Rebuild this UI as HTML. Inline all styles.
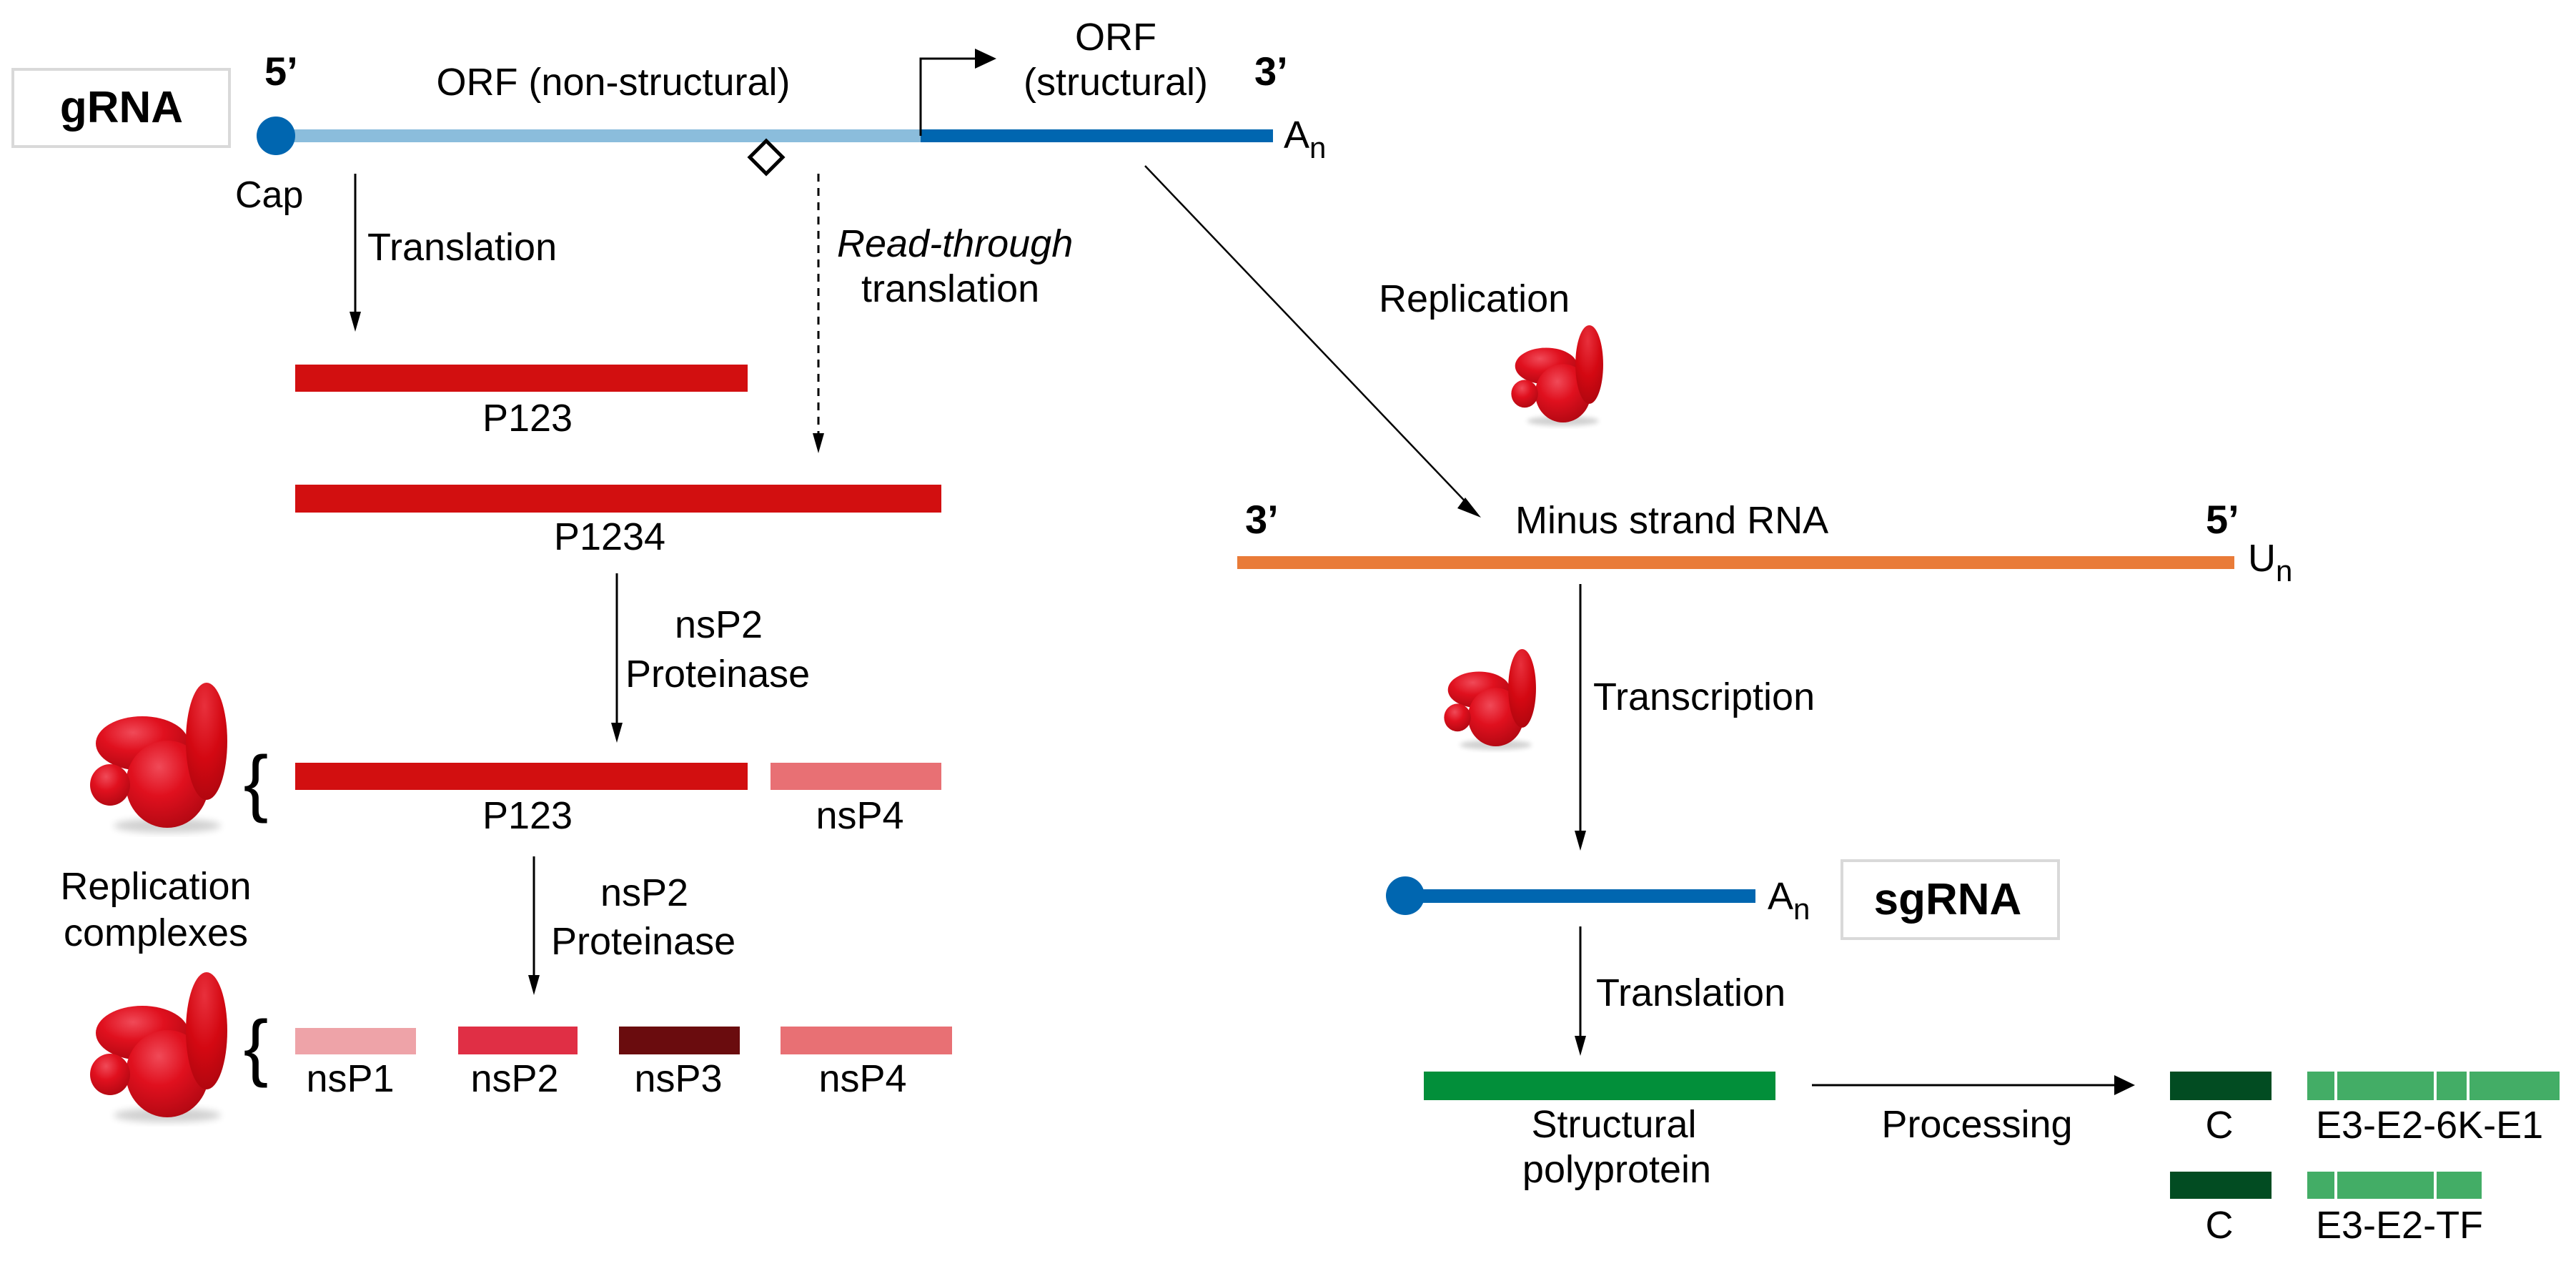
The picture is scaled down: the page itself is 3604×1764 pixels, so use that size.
<!DOCTYPE html>
<html><head><meta charset="utf-8"><style>
html,body{margin:0;padding:0;background:#fff;}
svg{display:block;}
text{font-family:"Liberation Sans",Arial,sans-serif;fill:#000;}
</style></head><body>
<svg width="3604" height="1764" viewBox="0 0 3604 1764" xmlns="http://www.w3.org/2000/svg">
<defs>
<radialGradient id="g1" cx="0.4" cy="0.3" r="0.75">
<stop offset="0" stop-color="#f04a58"/><stop offset="0.45" stop-color="#e0101e"/><stop offset="1" stop-color="#b00812"/>
</radialGradient>
<radialGradient id="g2" cx="0.45" cy="0.2" r="0.9">
<stop offset="0" stop-color="#e8303c"/><stop offset="0.5" stop-color="#d40812"/><stop offset="1" stop-color="#a8060e"/>
</radialGradient>
<filter id="sh" x="-30%" y="-30%" width="160%" height="160%"><feGaussianBlur stdDeviation="5"/></filter>
<g id="blob">
<ellipse cx="110" cy="200" rx="75" ry="10" fill="#000" opacity="0.18" filter="url(#sh)"/>
<ellipse cx="75" cy="85" rx="65" ry="38" fill="url(#g1)"/>
<ellipse cx="110" cy="142" rx="58" ry="61" fill="url(#g1)"/>
<ellipse cx="30" cy="143" rx="28" ry="29" fill="url(#g1)"/>
<ellipse cx="165" cy="82" rx="29" ry="82" fill="url(#g2)"/>
</g>
</defs>

<rect x="18" y="97" width="303" height="108" fill="#fff" stroke="#d9d9d9" stroke-width="4"/>
<text x="170" y="171" font-size="62" font-weight="bold" text-anchor="middle">gRNA</text>
<text x="370" y="119" font-size="56" font-weight="bold">5’</text>
<rect x="386" y="181" width="902" height="18" fill="#8bbddc"/>
<rect x="1288" y="181" width="493" height="18" fill="#0066b0"/>
<circle cx="386" cy="190" r="27" fill="#0066b0"/>
<text x="858" y="133" font-size="54" text-anchor="middle">ORF (non-structural)</text>
<polyline points="1288,190 1288,82 1366,82" fill="none" stroke="#000" stroke-width="3"/>
<polygon points="1364,68 1394,82 1364,96" fill="#000"/>
<text x="1561" y="70" font-size="54" text-anchor="middle">ORF</text>
<text x="1561" y="133" font-size="54" text-anchor="middle">(structural)</text>
<text x="1755" y="119" font-size="56" font-weight="bold">3’</text>
<text x="1796" y="207" font-size="54">A<tspan font-size="42" dy="14">n</tspan></text>
<polygon points="1072,197 1095,220 1072,243 1049,220" fill="#fff" stroke="#000" stroke-width="5"/>
<text x="329" y="290" font-size="52">Cap</text>

<line x1="497" y1="243" x2="497" y2="440" stroke="#000" stroke-width="3"/>
<polygon points="489,436 505,436 497,464" fill="#000"/>
<text x="514" y="364" font-size="54">Translation</text>
<line x1="1145" y1="243" x2="1145" y2="610" stroke="#000" stroke-width="3" stroke-dasharray="11,9"/>
<polygon points="1137,606 1153,606 1145,634" fill="#000"/>
<text x="1171" y="359" font-size="54" font-style="italic">Read-through</text>
<text x="1205" y="422" font-size="54">translation</text>

<rect x="413" y="510" width="633" height="38" fill="#d20f10"/>
<text x="738" y="603" font-size="54" text-anchor="middle">P123</text>
<rect x="413" y="678" width="904" height="39" fill="#d20f10"/>
<text x="853" y="769" font-size="54" text-anchor="middle">P1234</text>

<line x1="863" y1="802" x2="863" y2="1015" stroke="#000" stroke-width="3"/>
<polygon points="855,1011 871,1011 863,1039" fill="#000"/>
<text x="944" y="892" font-size="54">nsP2</text>
<text x="875" y="961" font-size="54">Proteinase</text>

<use href="#blob" transform="translate(124,955)"/>
<text x="358" y="1130" font-size="104" text-anchor="middle">{</text>
<rect x="413" y="1067" width="633" height="38" fill="#d20f10"/>
<rect x="1078" y="1067" width="239" height="38" fill="#e87074"/>
<text x="738" y="1159" font-size="54" text-anchor="middle">P123</text>
<text x="1203" y="1159" font-size="54" text-anchor="middle">nsP4</text>

<text x="218" y="1258" font-size="54" text-anchor="middle">Replication</text>
<text x="218" y="1323" font-size="54" text-anchor="middle">complexes</text>

<line x1="747" y1="1198" x2="747" y2="1368" stroke="#000" stroke-width="3"/>
<polygon points="739,1364 755,1364 747,1392" fill="#000"/>
<text x="840" y="1267" font-size="54">nsP2</text>
<text x="771" y="1335" font-size="54">Proteinase</text>

<use href="#blob" transform="translate(124,1360)"/>
<text x="358" y="1500" font-size="104" text-anchor="middle">{</text>
<rect x="413" y="1438" width="169" height="37" fill="#eea3a8"/>
<rect x="641" y="1436" width="167" height="39" fill="#e02f45"/>
<rect x="866" y="1436" width="169" height="39" fill="#6a0c0e"/>
<rect x="1092" y="1436" width="240" height="39" fill="#e87074"/>
<text x="490" y="1527" font-size="54" text-anchor="middle">nsP1</text>
<text x="720" y="1527" font-size="54" text-anchor="middle">nsP2</text>
<text x="949" y="1527" font-size="54" text-anchor="middle">nsP3</text>
<text x="1207" y="1527" font-size="54" text-anchor="middle">nsP4</text>

<line x1="1602" y1="232" x2="2060" y2="712" stroke="#000" stroke-width="2.5"/>
<polygon points="2050,696 2072,724 2039,711" fill="#000"/>
<text x="1929" y="436" font-size="54">Replication</text>
<use href="#blob" transform="translate(2113,455) scale(0.67)"/>

<text x="1742" y="746" font-size="56" font-weight="bold">3’</text>
<text x="2120" y="746" font-size="54">Minus strand RNA</text>
<text x="3086" y="746" font-size="56" font-weight="bold">5’</text>
<rect x="1731" y="778" width="1395" height="18" fill="#e97b38"/>
<text x="3145" y="799" font-size="54">U<tspan font-size="42" dy="14">n</tspan></text>

<line x1="2211" y1="817" x2="2211" y2="1166" stroke="#000" stroke-width="3"/>
<polygon points="2203,1162 2219,1162 2211,1190" fill="#000"/>
<use href="#blob" transform="translate(2019,908) scale(0.67)"/>
<text x="2229" y="993" font-size="54">Transcription</text>

<rect x="1966" y="1244" width="490" height="19" fill="#0066b0"/>
<circle cx="1966" cy="1253" r="27" fill="#0066b0"/>
<text x="2473" y="1272" font-size="54">A<tspan font-size="42" dy="14">n</tspan></text>
<rect x="2577" y="1204" width="303" height="109" fill="#fff" stroke="#d9d9d9" stroke-width="4"/>
<text x="2725" y="1279" font-size="62" font-weight="bold" text-anchor="middle">sgRNA</text>

<line x1="2211" y1="1296" x2="2211" y2="1453" stroke="#000" stroke-width="3"/>
<polygon points="2203,1449 2219,1449 2211,1477" fill="#000"/>
<text x="2233" y="1407" font-size="54">Translation</text>

<rect x="1992" y="1499" width="492" height="40" fill="#028f3a"/>
<text x="2258" y="1591" font-size="54" text-anchor="middle">Structural</text>
<text x="2262" y="1654" font-size="54" text-anchor="middle">polyprotein</text>

<line x1="2535" y1="1518" x2="2962" y2="1518" stroke="#000" stroke-width="3"/>
<polygon points="2958,1504 2987,1518 2958,1532" fill="#000"/>
<text x="2766" y="1591" font-size="54" text-anchor="middle">Processing</text>

<rect x="3036" y="1499" width="142" height="40" fill="#024c22"/>
<rect x="3228" y="1499" width="353" height="40" fill="#43ad66"/>
<rect x="3266" y="1499" width="4" height="40" fill="#fff"/>
<rect x="3405" y="1499" width="4" height="40" fill="#fff"/>
<rect x="3451" y="1499" width="4" height="40" fill="#fff"/>
<text x="3105" y="1592" font-size="54" text-anchor="middle">C</text>
<text x="3240" y="1592" font-size="54">E3-E2-6K-E1</text>

<rect x="3036" y="1639" width="142" height="38" fill="#024c22"/>
<rect x="3228" y="1639" width="244" height="38" fill="#43ad66"/>
<rect x="3266" y="1639" width="4" height="38" fill="#fff"/>
<rect x="3405" y="1639" width="4" height="38" fill="#fff"/>
<text x="3105" y="1732" font-size="54" text-anchor="middle">C</text>
<text x="3240" y="1732" font-size="54">E3-E2-TF</text>
</svg>
</body></html>
